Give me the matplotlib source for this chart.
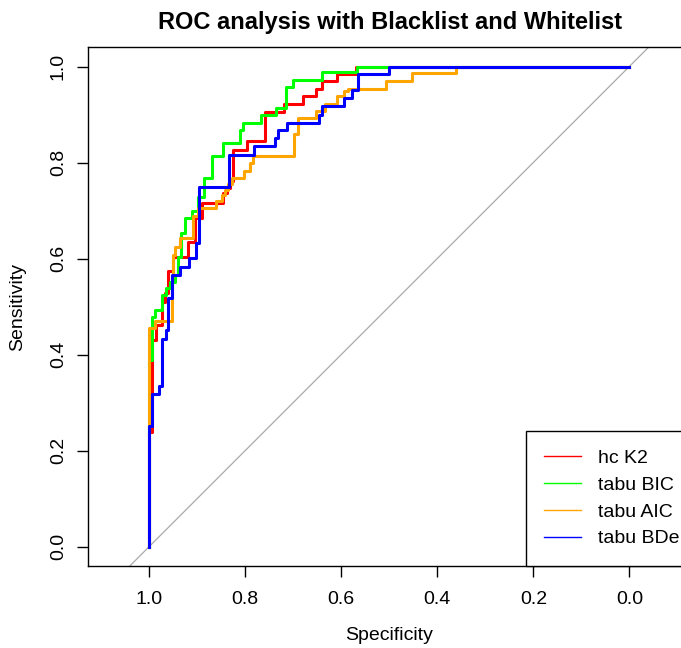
import numpy as np
import matplotlib
matplotlib.use('Agg')
import matplotlib.pyplot as plt
from matplotlib.lines import Line2D

plt.rcParams['font.family'] = ['Liberation Sans', 'DejaVu Sans']

# ROC coordinates (specificity, sensitivity), one point per threshold
spec_hc_k2 = [1.000, 0.994, 0.987, 0.974, 0.967, 0.960, 0.950, 0.920, 0.905, 0.891, 0.846, 0.839,
              0.832, 0.825, 0.797, 0.758, 0.719, 0.679, 0.653, 0.641, 0.608, 0.569, 0.000]
sens_hc_k2 = [0.000, 0.238, 0.431, 0.462, 0.510, 0.529, 0.573, 0.604, 0.635, 0.684, 0.715, 0.736,
              0.747, 0.762, 0.826, 0.844, 0.906, 0.922, 0.938, 0.954, 0.970, 0.985, 1.000]

spec_tabu_bic = [1.000, 0.995, 0.988, 0.974, 0.966, 0.957, 0.946, 0.940, 0.933, 0.926, 0.912, 0.898,
                 0.885, 0.870, 0.846, 0.811, 0.804, 0.767, 0.735, 0.715, 0.701, 0.640, 0.567, 0.000]
sens_tabu_bic = [0.000, 0.389, 0.479, 0.493, 0.524, 0.538, 0.552, 0.566, 0.604, 0.653, 0.684, 0.698,
                 0.729, 0.768, 0.813, 0.841, 0.868, 0.883, 0.899, 0.914, 0.957, 0.972, 0.988, 1.000]

spec_tabu_aic = [1.000, 0.988, 0.953, 0.950, 0.946, 0.936, 0.908, 0.898, 0.862, 0.849, 0.842, 0.837,
                 0.828, 0.803, 0.790, 0.783, 0.698, 0.690, 0.653, 0.633, 0.608, 0.595, 0.585, 0.507,
                 0.453, 0.361, 0.000]
sens_tabu_aic = [0.000, 0.455, 0.469, 0.563, 0.608, 0.625, 0.643, 0.688, 0.705, 0.719, 0.733, 0.743,
                 0.756, 0.768, 0.783, 0.799, 0.814, 0.859, 0.892, 0.908, 0.922, 0.938, 0.949, 0.954,
                 0.970, 0.986, 1.000]

spec_tabu_bde = [1.000, 0.994, 0.980, 0.973, 0.966, 0.960, 0.952, 0.936, 0.917, 0.903, 0.896, 0.833,
                 0.782, 0.738, 0.731, 0.713, 0.646, 0.640, 0.595, 0.577, 0.565, 0.500, 0.000]
sens_tabu_bde = [0.000, 0.252, 0.318, 0.335, 0.433, 0.451, 0.518, 0.566, 0.583, 0.602, 0.632, 0.750,
                 0.816, 0.835, 0.852, 0.867, 0.883, 0.899, 0.917, 0.935, 0.951, 0.984, 1.000]

labels = ['hc K2', 'tabu BIC', 'tabu AIC', 'tabu BDe']
colors = ['#FF0000', '#00FF00', '#FFA500', '#0000FF']
curves = [(spec_hc_k2, sens_hc_k2), (spec_tabu_bic, sens_tabu_bic),
          (spec_tabu_aic, sens_tabu_aic), (spec_tabu_bde, sens_tabu_bde)]
ticks = [1.0, 0.8, 0.6, 0.4, 0.2, 0.0]

fig = plt.figure(figsize=(6.81, 6.48), dpi=100)
# plot box runs past the right edge of the picture, like the R device crop
ax = fig.add_axes([88.3 / 681, 82.3 / 648, 602 / 681, 518.4 / 648])
ax.set_xlim(1.127, -0.127)
ax.set_ylim(-0.04, 1.04)

# diagonal reference line
ax.axline((1, 0), (0, 1), color='#A9A9A9', lw=0.9, zorder=1)

for (sp, se), c in zip(curves, colors):
    ax.step(np.array(sp), np.array(se), where='pre', color=c, lw=2.2, zorder=2)

ax.set_xticks(ticks)
ax.set_xticklabels(['%.1f' % t for t in ticks])
ax.set_yticks(ticks[::-1])
ax.set_yticklabels(['%.1f' % t for t in ticks[::-1]], rotation=90, va='center')
ax.tick_params(axis='both', length=7.9, width=1, labelsize=14, color='black')
ax.tick_params(axis='x', pad=10.5)
ax.tick_params(axis='y', pad=7.5)
for s in ax.spines.values():
    s.set_linewidth(1)
    s.set_color('black')

fig.text(389 / 681, 1 - 636 / 648, 'Specificity', ha='center', va='center', fontsize=14)
fig.text(18 / 681, 1 - 306.5 / 648, 'Sensitivity', ha='center', va='center', fontsize=14, rotation=90)
fig.text(390 / 681, 1 - 22 / 648, 'ROC analysis with Blacklist and Whitelist',
         ha='center', va='center', fontsize=17, fontweight='bold')

handles = [Line2D([], [], color=c, lw=1) for c in colors]
leg = ax.legend(handles, labels, loc='lower right', bbox_to_anchor=(1.0129, 0),
                borderaxespad=0, fontsize=14, fancybox=False, framealpha=1,
                edgecolor='black', borderpad=0.94, labelspacing=0.47,
                handlelength=1.89, handletextpad=0.89)
leg.get_frame().set_linewidth(1)

fig.savefig('out.png', dpi=100)
